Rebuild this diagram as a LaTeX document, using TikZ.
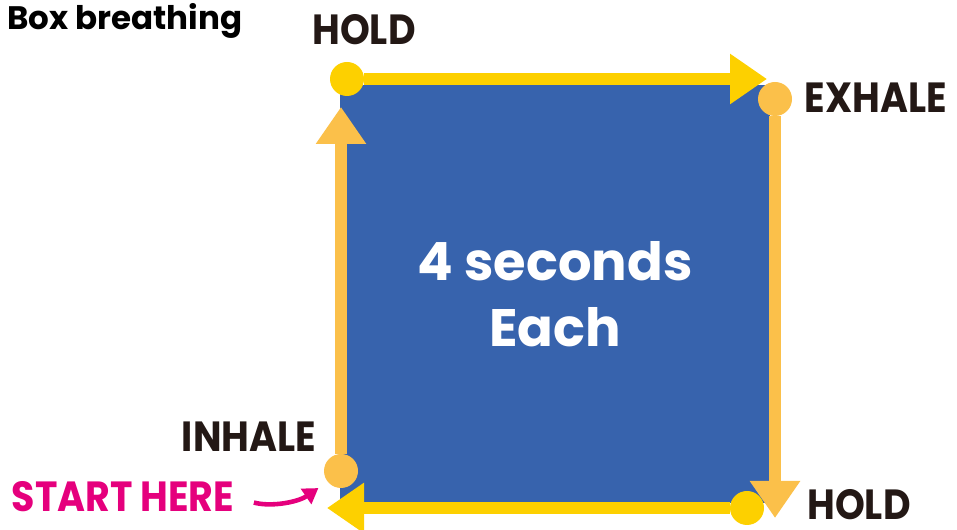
\documentclass[tikz,border=0pt]{standalone}
\usepackage{fontspec}
\setmainfont{Poppins}
\newfontfamily\narrowface[FakeStretch=0.9]{Poppins}
\usepackage{xcolor}
\usepackage{tikz}
\usetikzlibrary{arrows.meta, positioning, backgrounds}
\definecolor{boxblue}{HTML}{3763AD}
\definecolor{sun}{HTML}{FDD000}
\definecolor{amber}{HTML}{FBC04A}
\definecolor{pinky}{HTML}{E5007D}
\definecolor{ink}{HTML}{231815}
\tikzset{
  cue/.style={font=\narrowface\fontsize{24}{24}\selectfont\bfseries, color=ink, inner sep=0pt},
  dot/.style={circle, fill=#1, minimum size=0.68cm, inner sep=0pt},
  flow/.style={draw=#1, line width=0.24cm, -{Triangle[length=0.74cm, width=0.96cm]}},
}

\begin{document}
\begin{tikzpicture}
        \useasboundingbox (0,0) rectangle (19.14,10.6);
        % Corner dots
        \node[dot=sun] (hold1) at (6.94,9.02) {};
        \node[dot=amber] (exh) at (15.5,8.62) {};
        \node[dot=sun] (hold2) at (14.94,0.44) {};
        \node[dot=amber] (inh) at (6.82,1.18) {};
        % Arrow ends
        \coordinate (tipA) at (15.34,9.02);
        \coordinate (tipB) at (15.5,0.24);
        \coordinate (tipC) at (6.54,0.44);
        \coordinate (tipD) at (6.82,8.46);
        \begin{scope}[on background layer]
          % Box
          \node[fill=boxblue, minimum width=8.6cm, minimum height=8.36cm, inner sep=0pt,
                text=white, align=center, font=\fontsize{30}{37.4}\selectfont\bfseries]
                (square) at (11.1,4.72) {4 seconds\\Each};
          % Sides
          \draw[flow=sun] (hold1) -- (tipA);
          \draw[flow=amber] (exh) -- (tipB);
          \draw[flow=sun] (hold2) -- (tipC);
          \draw[flow=amber] (inh) -- (tipD);
        \end{scope}
        % Labels
        \node[font=\fontsize{18.5}{18.5}\selectfont\bfseries, anchor=base west, inner sep=0pt] (title) at (0.14,10.0) {Box breathing};
        \node[cue, anchor=base] (holdtop) at (7.28,9.7) {HOLD};
        \node[cue, anchor=base east] (exhale) at (18.94,8.34) {EXHALE};
        \node[cue, anchor=base] (inhale) at (4.98,1.56) {INHALE};
        \node[cue, anchor=base] (holdbot) at (17.18,0.2) {HOLD};
        \node[cue, color=pinky, anchor=base] (start) at (2.46,0.36) {START HERE};
        % Pointer
        \draw[draw=pinky, line width=2.6pt, -{Triangle[length=0.3cm, width=0.36cm]},
              shorten <=0.4cm, shorten >=0.22cm] (start.east) to[bend right=25] (inh);
      \end{tikzpicture}
\end{document}
